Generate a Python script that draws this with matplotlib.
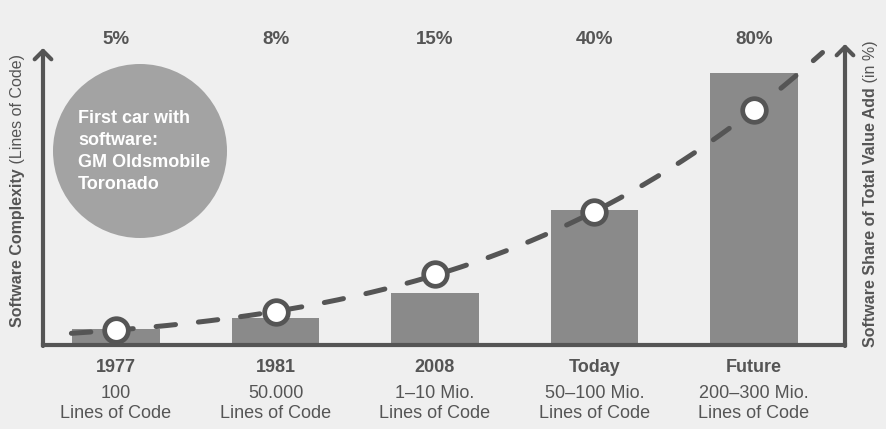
import numpy as np
import matplotlib
matplotlib.use("Agg")
import matplotlib.pyplot as plt
from matplotlib.patches import Circle

plt.rcParams["font.family"] = ["Liberation Sans", "DejaVu Sans"]

# categories and the two series (heights in chart units, baseline = 0)
periods = ["1977", "1981", "2008", "Today", "Future"]
loc_labels = ["100", "50.000", "1\u201310 Mio.", "50\u2013100 Mio.", "200\u2013300 Mio."]
value_share = ["5%", "8%", "15%", "40%", "80%"]
complexity = [16, 27, 52, 135, 272]
share_marker = [15, 33, 71, 133, 235]

DARK = "#555555"
BAR = "#8a8a8a"
BG = "#efefef"

fig = plt.figure(figsize=(8.87, 4.29), dpi=100, facecolor=BG)
ax = fig.add_axes([43 / 887, 1 - 345 / 429, (845 - 43) / 887, (345 - 40) / 429])
ax.set_facecolor(BG)
ax.set_xlim(-0.458, 4.571)
ax.set_ylim(0, 305)

x = np.arange(len(periods))
ax.bar(x, complexity, width=0.55, color=BAR, zorder=2)

# trend line: quadratic fit of the share values in log space
coef = np.polyfit(x, np.log(share_marker), 2)
xs = np.linspace(-0.28, 4.43, 300)
line, = ax.plot(xs, np.exp(np.polyval(coef, xs)), color=DARK, lw=3.6,
                dash_capstyle="round", zorder=3)
line.set_dashes((3.9, 4.6))
ax.plot(x, share_marker, "o", ms=17, mfc="white", mec=DARK, mew=3.4, zorder=4)

# axes: bottom spine plus arrow-headed vertical axes
for s in ["left", "right", "top"]:
    ax.spines[s].set_visible(False)
ax.spines["bottom"].set_color(DARK)
ax.spines["bottom"].set_linewidth(3)
ax.set_xticks([])
ax.set_yticks([])
arrow = dict(arrowstyle="->,head_length=0.3,head_width=0.3", lw=3, color=DARK,
             shrinkA=0, shrinkB=0, mutation_scale=20)
ax.annotate("", xy=(-0.458, 297), xytext=(-0.458, -1), arrowprops=arrow,
            annotation_clip=False)
ax.annotate("", xy=(4.571, 301), xytext=(4.571, -1), arrowprops=arrow,
            annotation_clip=False)

# labels above and below the bars
for i in range(len(periods)):
    ax.text(i, 305, value_share[i], ha="center", va="center", fontsize=13.5,
            fontweight="bold", color=DARK, clip_on=False)
    ax.text(i, -22, periods[i], ha="center", va="center", fontsize=13,
            fontweight="bold", color=DARK, clip_on=False)
    ax.text(i, -48, loc_labels[i], ha="center", va="center", fontsize=13,
            color=DARK, clip_on=False)
    ax.text(i, -69, "Lines of Code", ha="center", va="center", fontsize=13,
            color=DARK, clip_on=False)

# callout circle
fig.patches.append(Circle((1.40, 4.29 - 1.51), 0.87, transform=fig.dpi_scale_trans,
                          facecolor="#a3a3a3", edgecolor="none", zorder=1))
fig.text(78 / 887, 1 - 151.5 / 429,
         "First car with\nsoftware:\nGM Oldsmobile\nToronado",
         ha="left", va="center", fontsize=13, fontweight="bold", color="white",
         linespacing=1.4, zorder=5)

# axis titles: bold part followed by a regular suffix
left = fig.text(18 / 887, 1 - 327 / 429, "Software Complexity", rotation=90,
                ha="center", va="bottom", fontsize=11.5, fontweight="bold", color=DARK)
ax.annotate(" (Lines of Code)", xy=(0.5, 1.0), xycoords=left, rotation=90,
            ha="center", va="bottom", fontsize=11.5, color=DARK)
right = fig.text(871 / 887, 1 - 347 / 429, "Software Share of Total Value Add",
                 rotation=90, ha="center", va="bottom", fontsize=11.5,
                 fontweight="bold", color=DARK)
ax.annotate(" (in %)", xy=(0.5, 1.0), xycoords=right, rotation=90,
            ha="center", va="bottom", fontsize=11.5, color=DARK)

fig.savefig("out.png", dpi=100, facecolor=BG)
